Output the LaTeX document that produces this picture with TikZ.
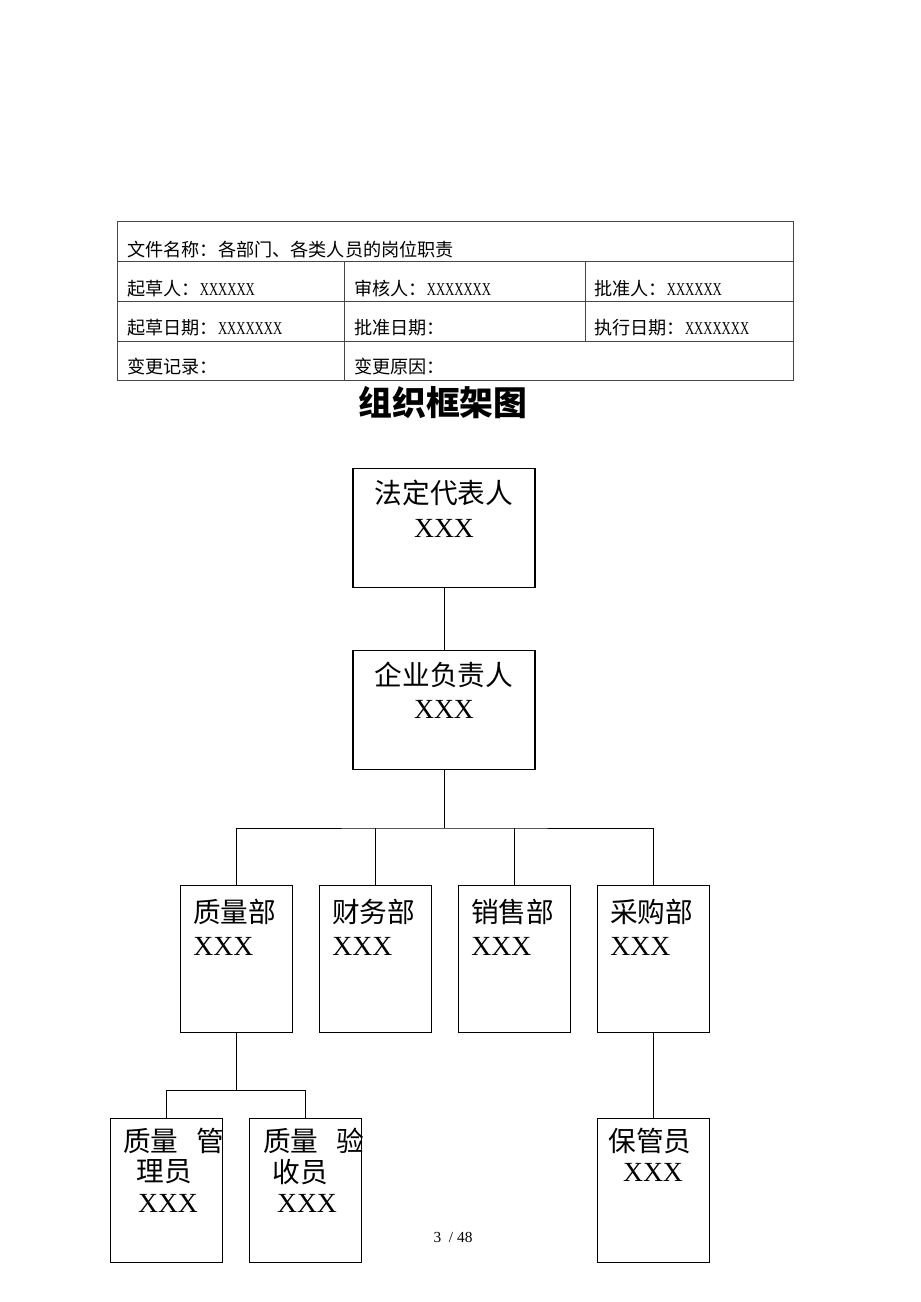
\documentclass[tikz,border=0pt]{standalone}
\usepackage{fontspec}
\setmainfont{Liberation Serif}
\newfontfamily\cjk{Noto Sans CJK SC}
\usetikzlibrary{positioning}
\definecolor{rulegray}{RGB}{70,70,70}
\newcommand{\tabx}[1]{{\rmfamily\scalebox{0.7}[1]{#1}}}
\tikzstyle{orgbox} = [rectangle, draw, line width=0.7pt, inner sep=0pt]
\tikzstyle{link} = [line width=0.6pt]
\tikzstyle{boxtext} = [inner sep=0pt, font=\cjk\fontsize{18}{20}\selectfont]
\tikzstyle{namex} = [inner sep=0pt, font=\rmfamily\fontsize{18}{20}\selectfont]
\tikzstyle{celltext} = [anchor=base west, inner sep=0pt, font=\cjk\fontsize{11.8}{13}\selectfont]

\begin{document}
\begin{tikzpicture}[x=0.2286mm, y=-0.2286mm]
    \fill[white] (0,0) rectangle (920,1302);
    \useasboundingbox (0,0) rectangle (920,1302);

    % Document header table
    \draw[rulegray, line width=0.6pt] (117,221) rectangle (793,380);
    \draw[rulegray, line width=0.6pt] (117,261) -- (793,261) (117,301) -- (793,301) (117,341) -- (793,341);
    \draw[rulegray, line width=0.6pt] (344,261) -- (344,380) (585,261) -- (585,341);
    \node[celltext] (docname) at (127,257) {文件名称：各部门、各类人员的岗位职责};
    \node[celltext] (drafter) at (127,296) {起草人：\tabx{XXXXXX}};
    \node[celltext] (checker) at (354,296) {审核人：\tabx{XXXXXXX}};
    \node[celltext] (approver) at (594,296) {批准人：\tabx{XXXXXX}};
    \node[celltext] (draftdate) at (127,335) {起草日期：\tabx{XXXXXXX}};
    \node[celltext] (approvedate) at (354,335) {批准日期：};
    \node[celltext] (execdate) at (594,335) {执行日期：\tabx{XXXXXXX}};
    \node[celltext] (changelog) at (127,374) {变更记录：};
    \node[celltext] (changewhy) at (354,374) {变更原因：};

    % Title
    \node[inner sep=0pt, font=\cjk\bfseries\fontsize{22}{24}\selectfont] (title) at (443,403) {组织框架图};

    % Legal representative
    \node[orgbox, minimum width=41.6mm, minimum height=27.4mm] (legal) at (444,528) {};
    \node[boxtext] (legaltxt) at (444,493) {法定代表人};
    \node[namex] (legalname) at (444,528) {XXX};

    % Enterprise head
    \node[orgbox, minimum width=41.6mm, minimum height=27.4mm] (head) at (444,710) {};
    \node[boxtext] (headtxt) at (444,675) {企业负责人};
    \node[namex] (headname) at (444,709) {XXX};

    % Departments
    \node[orgbox, minimum width=25.4mm, minimum height=33.4mm] (quality) at (236.5,959) {};
    \node[orgbox, minimum width=25.4mm, minimum height=33.4mm] (finance) at (375.5,959) {};
    \node[orgbox, minimum width=25.4mm, minimum height=33.4mm] (sales) at (514.5,959) {};
    \node[orgbox, minimum width=25.4mm, minimum height=33.4mm] (purchase) at (653.5,959) {};
    \node[boxtext, anchor=west] (qualitytxt) at (193,912) {质量部};
    \node[namex, anchor=west] (qualityname) at (193,946) {XXX};
    \node[boxtext, anchor=west] (financetxt) at (332,912) {财务部};
    \node[namex, anchor=west] (financename) at (332,946) {XXX};
    \node[boxtext, anchor=west] (salestxt) at (471,912) {销售部};
    \node[namex, anchor=west] (salesname) at (471,946) {XXX};
    \node[boxtext, anchor=west] (purchasetxt) at (610,912) {采购部};
    \node[namex, anchor=west] (purchasename) at (610,946) {XXX};

    % Staff
    \node[orgbox, minimum width=25.4mm, minimum height=33.1mm] (qmanager) at (166.5,1190.5) {};
    \node[orgbox, minimum width=25.4mm, minimum height=33.1mm] (qchecker) at (305.5,1190.5) {};
    \node[orgbox, minimum width=25.4mm, minimum height=33.1mm] (keeper) at (653.5,1190.5) {};
    \node[boxtext, anchor=west] (qmanagertxt) at (123,1141) {质量\hspace{4mm}管};
    \node[boxtext] (qmanagertxtb) at (164,1172) {理员};
    \node[namex] (qmanagername) at (168,1203) {XXX};
    \node[boxtext, anchor=west] (qcheckertxt) at (263,1141) {质量\hspace{4mm}验};
    \node[boxtext] (qcheckertxtb) at (300,1172) {收员};
    \node[namex] (qcheckername) at (307,1203) {XXX};
    \node[boxtext] (keepertxt) at (650,1141) {保管员};
    \node[namex] (keepername) at (653,1172) {XXX};

    % Connectors
    \coordinate (deptbar) at (444,828);
    \coordinate (qbar) at (236.5,1090);
    \draw[link] (legal) -- (head);
    \draw[link] (head.south) -- (deptbar);
    \draw[link] (quality.north) |- (deptbar) -| (purchase.north);
    \draw[link] (finance.north) -- (finance.north |- deptbar);
    \draw[link] (sales.north) -- (sales.north |- deptbar);
    \draw[link] (quality.south) -- (qbar);
    \draw[link] (qmanager.north) |- (qbar) -| (qchecker.north);
    \draw[link] (purchase.south) -- (keeper.north);

    % Page number
    \node[inner sep=0pt, font=\fontsize{10}{12}\selectfont] (pagenum) at (453,1237) {3\ \ / 48};
\end{tikzpicture}
\end{document}
